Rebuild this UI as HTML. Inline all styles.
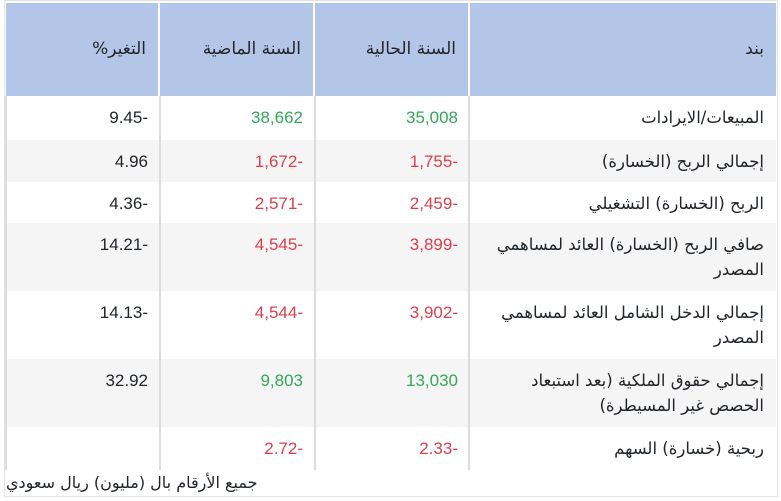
<!DOCTYPE html>
<html lang="ar">
<head>
<meta charset="utf-8">
<style>
  html, body { margin:0; padding:0; background:#ffffff; }
  body { width:781px; height:501px; position:relative; overflow:hidden;
         font-family:"Liberation Sans","DejaVu Sans",sans-serif; color:#212529; }
  .outer { position:absolute; left:4px; top:0px; width:772px; height:495px; border:1px solid #e2e2e2; }
  .c { position:absolute; box-sizing:border-box; text-align:right; direction:rtl;
       padding-right:12px; padding-top:8.5px; line-height:25px; font-size:16.5px; white-space:nowrap; }
  .h { background:#b4c6e7; padding-top:0; display:flex; align-items:center; justify-content:flex-start; font-size:17px; }
  .ar { font-family:"DejaVu Sans",sans-serif; }
  .num { font-family:"Liberation Sans",sans-serif; font-size:17px; }
  .g { color:#36a65a; }
  .r { color:#d8404c; }
  .alt { background:#f5f5f5; }
  .vl { position:absolute; width:2px; background:#dcdcdc; }
  .cap { position:absolute; left:6px; top:471px; font-size:16px; line-height:24px; direction:rtl; white-space:nowrap; font-family:"DejaVu Sans",sans-serif; }
</style>
</head>
<body>
<div class="outer"></div>

<!-- header -->
<div class="c h ar" style="left:6px;top:3px;width:152px;height:93px;">التغير%</div>
<div class="c h ar" style="left:160px;top:3px;width:153px;height:93px;">السنة الماضية</div>
<div class="c h ar" style="left:315px;top:3px;width:153px;height:93px;">السنة الحالية</div>
<div class="c h ar" style="left:470px;top:3px;width:306px;height:93px;">بند</div>

<!-- row backgrounds -->
<div class="alt" style="position:absolute;left:6px;top:140px;width:770px;height:42px;"></div>
<div class="alt" style="position:absolute;left:6px;top:223px;width:770px;height:68px;"></div>
<div class="alt" style="position:absolute;left:6px;top:359px;width:770px;height:68px;"></div>

<!-- vertical lines in body -->
<div class="vl" style="left:5px;top:96px;height:374px;"></div>
<div class="vl" style="left:159px;top:96px;height:374px;"></div>
<div class="vl" style="left:314px;top:96px;height:374px;"></div>
<div class="vl" style="left:468px;top:96px;height:374px;"></div>

<!-- row 1 -->
<div class="c num" style="left:6px;top:96px;width:154px;"><span dir="ltr">9.45-</span></div>
<div class="c num g" style="left:160px;top:96px;width:155px;"><span dir="ltr">38,662</span></div>
<div class="c num g" style="left:315px;top:96px;width:155px;"><span dir="ltr">35,008</span></div>
<div class="c ar" style="left:470px;top:96px;width:306px;">المبيعات/الايرادات</div>

<!-- row 2 -->
<div class="c num" style="left:6px;top:140px;width:154px;"><span dir="ltr">4.96</span></div>
<div class="c num r" style="left:160px;top:140px;width:155px;"><span dir="ltr">1,672-</span></div>
<div class="c num r" style="left:315px;top:140px;width:155px;"><span dir="ltr">1,755-</span></div>
<div class="c ar" style="left:470px;top:140px;width:306px;">إجمالي الربح (الخسارة)</div>

<!-- row 3 -->
<div class="c num" style="left:6px;top:182px;width:154px;"><span dir="ltr">4.36-</span></div>
<div class="c num r" style="left:160px;top:182px;width:155px;"><span dir="ltr">2,571-</span></div>
<div class="c num r" style="left:315px;top:182px;width:155px;"><span dir="ltr">2,459-</span></div>
<div class="c ar" style="left:470px;top:182px;width:306px;">الربح (الخسارة) التشغيلي</div>

<!-- row 4 -->
<div class="c num" style="left:6px;top:223px;width:154px;"><span dir="ltr">14.21-</span></div>
<div class="c num r" style="left:160px;top:223px;width:155px;"><span dir="ltr">4,545-</span></div>
<div class="c num r" style="left:315px;top:223px;width:155px;"><span dir="ltr">3,899-</span></div>
<div class="c ar" style="left:470px;top:223px;width:306px;">صافي الربح (الخسارة) العائد لمساهمي<br>المصدر</div>

<!-- row 5 -->
<div class="c num" style="left:6px;top:291px;width:154px;"><span dir="ltr">14.13-</span></div>
<div class="c num r" style="left:160px;top:291px;width:155px;"><span dir="ltr">4,544-</span></div>
<div class="c num r" style="left:315px;top:291px;width:155px;"><span dir="ltr">3,902-</span></div>
<div class="c ar" style="left:470px;top:291px;width:306px;">إجمالي الدخل الشامل العائد لمساهمي<br>المصدر</div>

<!-- row 6 -->
<div class="c num" style="left:6px;top:359px;width:154px;"><span dir="ltr">32.92</span></div>
<div class="c num g" style="left:160px;top:359px;width:155px;"><span dir="ltr">9,803</span></div>
<div class="c num g" style="left:315px;top:359px;width:155px;"><span dir="ltr">13,030</span></div>
<div class="c ar" style="left:470px;top:359px;width:306px;">إجمالي حقوق الملكية (بعد استبعاد<br>الحصص غير المسيطرة)</div>

<!-- row 7 -->
<div class="c num r" style="left:160px;top:427px;width:155px;"><span dir="ltr">2.72-</span></div>
<div class="c num r" style="left:315px;top:427px;width:155px;"><span dir="ltr">2.33-</span></div>
<div class="c ar" style="left:470px;top:427px;width:306px;">ربحية (خسارة) السهم</div>

<div class="cap">جميع الأرقام بال (مليون) ريال سعودي</div>
</body>
</html>
